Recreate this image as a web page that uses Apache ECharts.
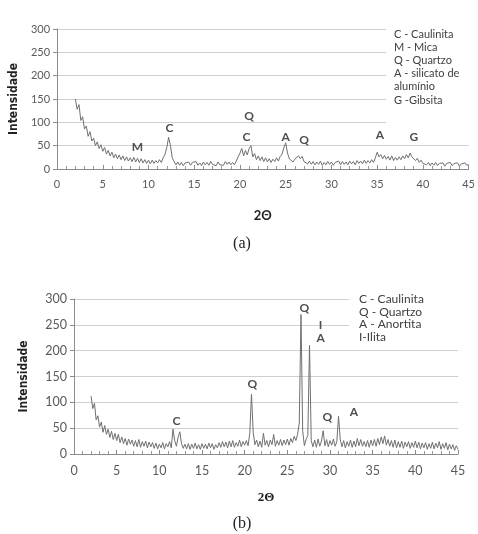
<!DOCTYPE html>
<html>
<head>
<meta charset="utf-8">
<script src="https://cdn.jsdelivr.net/npm/echarts@6/dist/echarts.min.js"></script>
<style>
  html, body { margin: 0; padding: 0; background: #fff; }
  #main { width: 478px; height: 534px; }
</style>
</head>
<body>
<div id="main"></div>
<script>
// 2-theta sampling of both scans
const twoThetaStart = 2;
const twoThetaStep = 0.2;

// (a) intensity, one value per step from 2.0 to 45.0
const intensityA = [
  150, 128, 138, 104, 112, 86,  // 2.0 - 3.0
  92, 70, 80, 60, 66,           // 3.2 - 4.0
  50, 58, 44, 52, 38,
  46, 32, 40, 28, 36,
  24, 32, 22, 30, 20,
  28, 18, 26, 17, 24,
  16, 25, 15, 23, 14,
  22, 13, 20, 12, 19,
  11, 19, 12, 18, 13,
  20, 14, 24, 31, 46,           // 11.2 - 12.0
  68, 50, 24, 16, 9,
  15, 8, 14, 7, 13,
  9, 15, 8, 14, 10,
  16, 8, 13, 7, 15,
  9, 14, 8, 16, 10,
  14, 7, 15, 9, 13,
  8, 16, 10, 15, 9,
  14, 9, 17, 26, 34,            // 19.2 - 20.0
  44, 28, 40, 30, 44,
  50, 26, 33, 20, 28,
  18, 26, 16, 24, 15,
  22, 14, 21, 16, 24,
  17, 27, 32, 46, 56,           // 24.2 - 25.0
  34, 22, 26, 15, 21,
  18, 28, 22, 27, 16,
  20, 11, 17, 10, 16,
  9, 15, 10, 17, 8,
  14, 9, 16, 10, 15,
  8, 14, 10, 17, 9,
  16, 10, 15, 9, 17,
  11, 16, 9, 18, 12,
  17, 11, 19, 12, 18,
  13, 20, 14, 24, 36,           // 34.2 - 35.0
  26, 31, 22, 29, 21,
  27, 19, 28, 18, 25,
  19, 26, 20, 28, 22,
  31, 24, 34, 26, 28,
  18, 23, 14, 19, 12,
  16, 9, 14, 7, 13,
  8, 14, 7, 12, 9,
  13, 6, 12, 8, 14,
  7, 12, 9, 13, 6,
  11, 7, 13, 8, 10              // 44.2 - 45.0
];

// (b) intensity
const intensityB = [
  112, 88, 98, 66, 74, 52,      // 2.0 - 3.0
  62, 42, 55, 38, 48,
  32, 44, 28, 40, 26,
  38, 22, 33, 20, 30,
  17, 29, 19, 27, 15,
  26, 14, 28, 13, 24,
  15, 25, 12, 23, 14,
  22, 11, 21, 10, 19,
  12, 22, 10, 20, 14,
  24, 12, 48, 26, 15,           // 11.2 - 12.0
  32, 43, 20, 11, 19,
  10, 20, 9, 19, 11,
  21, 10, 18, 9, 20,
  11, 19, 10, 21, 12,
  20, 9, 18, 12, 22,
  13, 24, 14, 23, 12,
  25, 14, 26, 13, 22,
  15, 27, 14, 24, 17,
  26, 16, 40, 116, 42,          // 20.2 - 21.0
  18, 27, 14, 25, 13,
  40, 17, 26, 14, 27,
  18, 38, 15, 26, 17,
  28, 16, 27, 18, 29,
  17, 30, 22, 34, 26,
  38, 60, 270, 44, 16,          // 26.2 - 27.0
  28, 36, 210, 26, 14,
  27, 13, 29, 15, 25,
  45, 16, 28, 14, 26,
  17, 29, 15, 24, 73,           // 30.2 - 31.0
  28, 14, 26, 12, 24,
  15, 27, 13, 25, 14,
  30, 16, 28, 15, 24,
  14, 26, 13, 27, 16,
  28, 15, 30, 18, 33,
  20, 35, 17, 28, 15,
  26, 13, 27, 12, 24,
  13, 25, 11, 23, 14,
  24, 11, 22, 13, 25,
  12, 23, 10, 21, 12,
  22, 9, 20, 11, 23,
  10, 21, 12, 24, 9,
  20, 11, 22, 8, 19,
  10, 18, 7, 16, 9              // 44.2 - 45.0
];

// peak labels [2theta, intensity, text]
const peaksA = [
  [8.8, 47, 'M'], [12.3, 88, 'C'], [21.0, 114, 'Q'], [20.7, 69, 'C'],
  [25.0, 69, 'A'], [27.0, 62, 'Q'], [35.3, 73, 'A'], [39.0, 68, 'G']
];
const peaksB = [
  [12.0, 64, 'C'], [20.9, 135, 'Q'], [27.0, 282, 'Q'], [28.9, 250, 'I'],
  [28.9, 225, 'A'], [29.7, 72, 'Q'], [32.8, 81, 'A']
];

const legendA = ['C - Caulinita', 'M - Mica', 'Q - Quartzo', 'A - silicato de', 'alumínio', 'G -Gibsita'];
const legendB = ['C - Caulinita', 'Q - Quartzo', 'A - Anortita', 'I-Ilita'];

const toPairs = (vals) => vals.map((v, i) => [+(twoThetaStart + i * twoThetaStep).toFixed(1), v]);

const font = 'Lato, "Open Sans", sans-serif';
const labelColor = '#595959';

function xAxisFor(gridIndex, fontSize, nameFont) {
  return {
    type: 'value', gridIndex: gridIndex, min: 0, max: 45, interval: 5,
    name: '2Θ', nameLocation: 'middle', nameGap: gridIndex === 0 ? 40 : 37,
    nameTextStyle: { fontFamily: nameFont, fontWeight: 'bold', fontSize: 13, color: '#222' },
    axisLine: { lineStyle: { color: '#8c8c8c', width: 1 } },
    axisTick: { inside: true, length: 4, lineStyle: { color: '#8c8c8c' } },
    minorTick: { show: true, splitNumber: 5, length: 3, lineStyle: { color: '#9a9a9a' } },
    axisLabel: { fontFamily: font, fontSize: fontSize, color: labelColor, margin: 10 },
    splitLine: { show: false }
  };
}

function yAxisFor(gridIndex, fontSize, nameGap) {
  return {
    type: 'value', gridIndex: gridIndex, min: 0, max: 300, interval: 50,
    name: 'Intensidade', nameLocation: 'middle', nameRotate: 90, nameGap: nameGap,
    nameTextStyle: { fontFamily: '"Liberation Sans Narrow", "DejaVu Sans Condensed", sans-serif', fontWeight: 'bold', fontSize: 12, color: '#222' },
    axisLine: { show: true, lineStyle: { color: '#8c8c8c', width: 1 } },
    axisTick: { show: true, length: 4, lineStyle: { color: '#8c8c8c' } },
    axisLabel: { fontFamily: font, fontSize: fontSize, color: labelColor, margin: 7 },
    splitLine: { lineStyle: { color: '#cfcfcf', width: 1 } }
  };
}

function peakSeries(peaks, idx, fontSize) {
  return {
    type: 'scatter', xAxisIndex: idx, yAxisIndex: idx, symbolSize: 0, silent: true, z: 5,
    data: peaks.map(p => ({ value: [p[0], p[1]], name: p[2] })),
    label: {
      show: true, position: 'inside', formatter: (p) => p.name,
      fontFamily: 'Lato, "Open Sans", sans-serif', fontWeight: 'bold', fontSize: fontSize, color: '#222'
    }
  };
}

function legendBox(lines, left, top, width, height, textX, firstY, step, fontSize) {
  const items = [{
    type: 'rect', left: left, top: top, z: 10,
    shape: { width: width, height: height }, style: { fill: '#fff' }
  }];
  lines.forEach((t, i) => {
    items.push({
      type: 'text', x: textX, y: firstY + i * step, z: 11,
      style: { text: t, fill: '#404040', font: fontSize + 'px Lato, "Open Sans", sans-serif', textVerticalAlign: 'middle' }
    });
  });
  return items;
}

const chart = echarts.init(document.getElementById('main'));

chart.setOption({
  backgroundColor: '#fff',
  animation: false,
  grid: [
    { left: 52, top: 29, width: 423, height: 140 },
    { left: 74, top: 299, width: 384, height: 155 }
  ],
  xAxis: [xAxisFor(0, 11, font), xAxisFor(1, 12.5, '"Liberation Serif", serif')],
  yAxis: [yAxisFor(0, 11, 34), yAxisFor(1, 12.5, 44)],
  series: [
    {
      type: 'line', xAxisIndex: 0, yAxisIndex: 0, data: toPairs(intensityA),
      showSymbol: false, lineStyle: { color: '#707070', width: 1 }, z: 3
    },
    {
      type: 'line', xAxisIndex: 1, yAxisIndex: 1, data: toPairs(intensityB),
      showSymbol: false, lineStyle: { color: '#707070', width: 1 }, z: 3
    },
    peakSeries(peaksA, 0, 12),
    peakSeries(peaksB, 1, 12)
  ],
  graphic: [].concat(
    legendBox(legendA, 386, 24, 92, 106, 394, 34, 13.2, 11),
    legendBox(legendB, 349, 290, 129, 55, 359, 299, 12.7, 12),
    [
      { type: 'text', x: 242, y: 244, style: { text: '(a)', font: '16px "Liberation Serif", serif', fill: '#222', textAlign: 'center', textVerticalAlign: 'middle' } },
      { type: 'text', x: 242, y: 524, style: { text: '(b)', font: '16px "Liberation Serif", serif', fill: '#222', textAlign: 'center', textVerticalAlign: 'middle' } }
    ]
  )
});
</script>
</body>
</html>
